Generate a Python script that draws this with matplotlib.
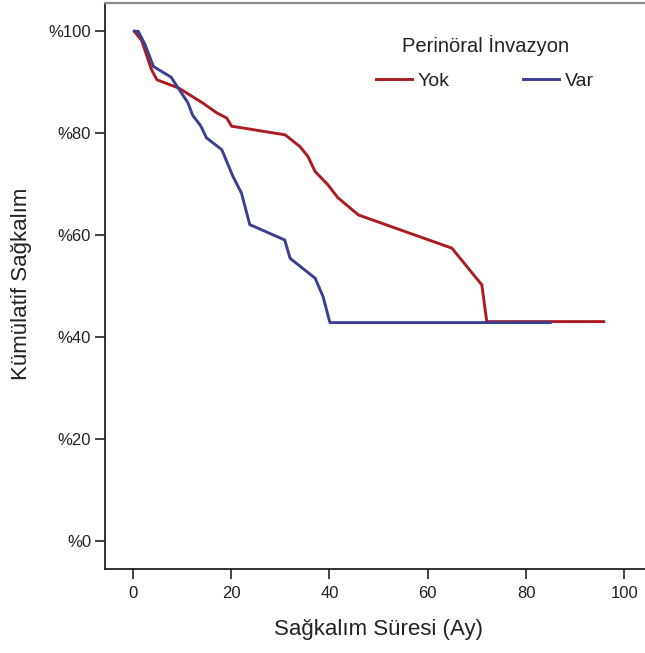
import matplotlib
matplotlib.use("Agg")
import matplotlib.pyplot as plt

plt.rcParams['font.family'] = ['Liberation Sans', 'DejaVu Sans']

# Kaplan-Meier estimates (months, cumulative survival %)
yok_months = [0.3, 1.8, 3.8, 4.9, 7.6, 9.3, 14.3, 17.1, 19.1, 20.1, 31.0, 34.0,
              35.6, 37.1, 39.7, 41.7, 45.9, 52.3, 64.9, 71.0, 72.0, 95.8]
yok_surv = [100, 98.2, 92.5, 90.5, 89.5, 88.9, 85.9, 84.0, 83.0, 81.4, 79.7, 77.4,
            75.5, 72.5, 69.9, 67.4, 64.0, 61.8, 57.5, 50.3, 43.1, 43.1]

var_months = [0.4, 1.1, 2.5, 4.2, 7.8, 8.6, 11.2, 12.2, 13.8, 15.0, 18.1, 20.4,
              22.1, 23.8, 30.9, 32.0, 37.1, 38.7, 40.1, 84.9]
var_surv = [100, 100, 97.4, 93.1, 91.0, 89.8, 86.0, 83.5, 81.5, 79.1, 76.8, 71.5,
            68.3, 62.1, 59.1, 55.5, 51.6, 48.0, 42.9, 42.9]

group_names = ["Yok", "Var"]
x_ticks = [0, 20, 40, 60, 80, 100]
y_ticks = [0, 20, 40, 60, 80, 100]
y_tick_labels = ["%" + str(v) for v in y_ticks]

W, H = 645, 653
fig = plt.figure(figsize=(W / 100, H / 100), dpi=100)

# axes frame in pixels; right side runs past the canvas edge
left_px, right_px, top_px, bottom_px = 105, 649, 2.7, 569.3
ax = fig.add_axes([left_px / W, 1 - bottom_px / H,
                   (right_px - left_px) / W, (bottom_px - top_px) / H])

ax.plot(yok_months, yok_surv, color='#A91D22', lw=2.1, label=group_names[0],
        solid_joinstyle='round')
ax.plot(var_months, var_surv, color='#3C3F91', lw=2.1, label=group_names[1],
        solid_joinstyle='round')

ax.set_xlim(-5.65, 105)
ax.set_ylim(-5.45, 105.6)
ax.set_xticks(x_ticks)
ax.set_yticks(y_ticks)
ax.set_yticklabels(y_tick_labels)
ax.tick_params(direction='out', length=7, width=1.2, colors='#222222',
               labelsize=12, pad=3)
ax.tick_params(axis='x', pad=5)

for side in ['left', 'bottom']:
    ax.spines[side].set_color('#222222')
    ax.spines[side].set_linewidth(1.3)
ax.spines['top'].set_color('#8a8a8a')
ax.spines['top'].set_linewidth(1.6)
ax.spines['right'].set_visible(False)

fig.text(378 / W, 1 - 630 / H, "Sağkalım Süresi (Ay)", ha='center', va='center',
         fontsize=16, color='#222222')
fig.text(22 / W, 1 - 284 / H, "Kümülatif Sağkalım", ha='center', va='center',
         rotation=90, fontsize=16, color='#222222')

# legend title sits a bit higher above the entries than the default spacing
fig.text(486 / W, 1 - 45 / H, "Perinöral İnvazyon", ha='center', va='center',
         fontsize=14.5, color='#222222')
leg = ax.legend(ncol=2, frameon=False,
                loc='center', bbox_to_anchor=(485 / W, 1 - 81 / H),
                bbox_transform=fig.transFigure, fontsize=14,
                handlelength=1.85, handletextpad=0.3,
                columnspacing=3.8, borderpad=0.0)
for t in leg.get_texts():
    t.set_color('#222222')

fig.savefig("out.png", dpi=100)
